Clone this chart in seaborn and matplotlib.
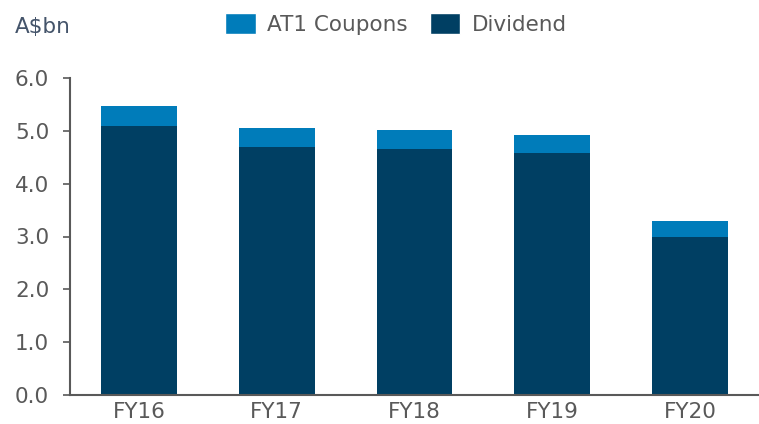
import matplotlib
matplotlib.use("Agg")
import matplotlib.pyplot as plt
import seaborn as sns
from matplotlib.patches import Patch

sns.set_theme(style="white")
plt.rcParams['font.family'] = ['DejaVu Sans']

years = ["FY16", "FY17", "FY18", "FY19", "FY20"]
dividend = [5.09, 4.70, 4.66, 4.58, 2.99]
at1 = [0.38, 0.36, 0.36, 0.34, 0.31]
yticks = [0.0, 1.0, 2.0, 3.0, 4.0, 5.0, 6.0]

c_div = "#003F63"
c_at1 = "#007CBA"
grey = "#595959"
fs = 15.5

fig = plt.figure(figsize=(7.59, 4.24), dpi=100)
ax = fig.add_axes([70 / 759, 1 - 395 / 424, 689 / 759, 317 / 424])

sns.barplot(x=years, y=dividend, color=c_div, width=0.55, ax=ax,
            saturation=1, linewidth=0)
sns.barplot(x=years, y=at1, bottom=dividend, color=c_at1, width=0.55, ax=ax,
            saturation=1, linewidth=0)

ax.set_xlim(-0.5, 4.5)
ax.set_ylim(0, 6)
ax.set_yticks(yticks)
ax.set_yticklabels([f"{v:.1f}" for v in yticks])
for s in ["top", "right"]:
    ax.spines[s].set_visible(False)
for s in ["left", "bottom"]:
    ax.spines[s].set_color(grey)
    ax.spines[s].set_linewidth(1.5)
ax.tick_params(axis="y", left=True, length=5, width=1.2, color=grey,
               labelsize=fs, labelcolor=grey, pad=10)
ax.tick_params(axis="x", bottom=False, length=0, labelsize=fs,
               labelcolor=grey, pad=5)
ax.set_xlabel("")
ax.set_ylabel("")

fig.text(15 / 759, 1 - 27 / 424, "A$bn", fontsize=fs, color="#44546A",
         va="center", ha="left")

handles = [Patch(facecolor=c_at1, label="AT1 Coupons"),
           Patch(facecolor=c_div, label="Dividend")]
fig.legend(handles=handles, loc="center", bbox_to_anchor=(396 / 759, 1 - 24 / 424),
           ncol=2, frameon=False, fontsize=fs, labelcolor=grey,
           handlelength=1.4, handleheight=1.07, handletextpad=0.55,
           columnspacing=1.0, borderaxespad=0, borderpad=0)

fig.savefig("out.png", dpi=100)
